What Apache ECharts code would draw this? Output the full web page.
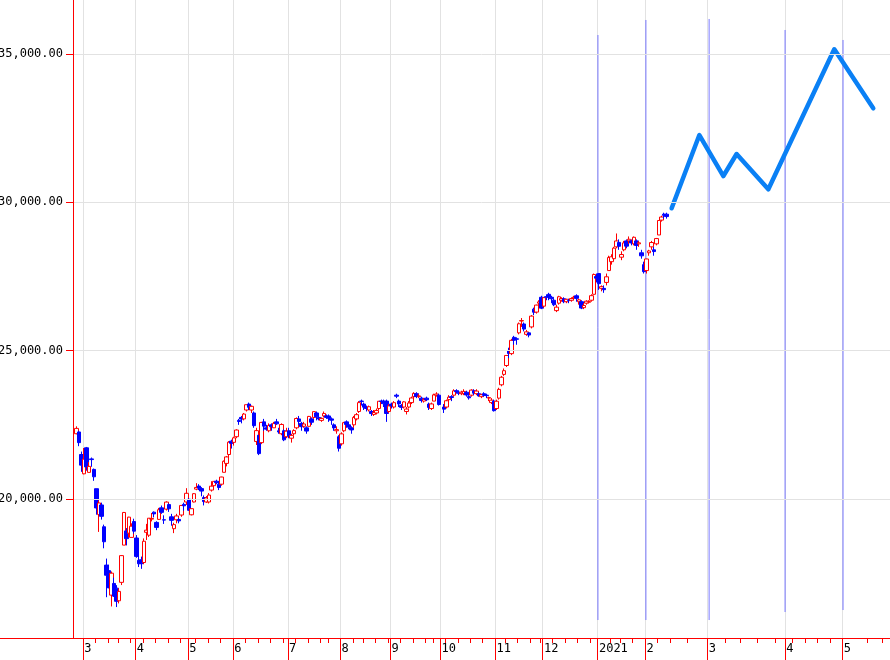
<!DOCTYPE html>
<html>
<head>
<meta charset="utf-8">
<script src="https://cdn.jsdelivr.net/npm/echarts@6/dist/echarts.min.js"></script>
<style>html,body{margin:0;padding:0;background:#fff;}#c{width:890px;height:660px;}</style>
</head>
<body>
<div id="c"></div>
<script>
// ---- data ----
const slotCount = 327;
// month boundaries (slot index) and labels
const monthSlots = [4, 25, 46, 64, 86, 107, 127, 147, 169, 188, 210, 229, 254, 285, 308];
const monthLabels = ['3', '4', '5', '6', '7', '8', '9', '10', '11', '12', '2021', '2', '3', '4', '5'];
// weekly minor ticks (slot index)
const weekSlots = [9, 14, 18, 23, 28, 33, 38, 43, 49, 54, 59, 69, 74, 79, 84, 89, 94, 99, 102,
  112, 116, 121, 126, 131, 136, 141, 144, 149, 154, 159, 164, 173, 178, 183, 187,
  192, 197, 202, 207, 215, 219, 224, 234, 239, 246, 261, 267, 274, 281, 288, 293, 298, 303, 318, 324];
const yTicks = [20000, 25000, 30000, 35000];
// daily candles [open, close, low, high], one per slot from slot 0
const candles = [
  null,
  [22200,22380,22180,22450],[22260,21900,21780,22300],[21500,21142,20916,21600],
  // Mar
  [20849,21344,20834,21719],[21726,21082,20955,21755],[20897,21100,20897,21245],[21352,21329,21086,21399],[20998,20749,20613,21027],
  [20347,19698,19472,20347],[19474,19867,18891,19950],[19799,19416,19306,19878],[19064,18559,18339,19136],[17772,17431,16690,17992],
  [17586,17002,17000,17785],[16760,17500,16378,17557],[17154,16726,16698,17350],[16995,16552,16358,17096],
  [16570,16887,16480,16990],[17191,18092,17099,18108],[18446,19546,18446,19564],[18924,18664,18436,19019],[18850,19389,18700,19400],
  [18706,19084,18706,19181],[19240,18917,18832,19336],
  // Apr
  [18686,18065,18018,18784],[17934,17818,17707,18132],[17951,17820,17646,18059],
  [17860,18576,17802,18672],[18878,18950,18619,19162],[18780,19353,18720,19353],[19322,19345,19245,19530],[19557,19498,19380,19580],
  [19211,19043,18950,19250],[19313,19638,19300,19700],[19702,19550,19500,19780],[19300,19290,19160,19450],[19658,19897,19612,19922],
  [19812,19669,19565,19853],[19400,19280,19100,19500],[19000,19137,18850,19200],[19300,19429,19180,19500],[19311,19262,19180,19360],
  [19460,19783,19400,19800],[19818,19771,19606,19877],[19900,20193,19800,20365],
  // May
  [19991,19619,19600,20020],
  [19468,19674,19448,19680],[19900,20179,19885,20200],
  [20333,20390,20296,20534],[20437,20366,20300,20500],[20350,20267,20090,20400],[20050,19914,19784,20120],[19900,20037,19870,20100],
  [19900,20133,19850,20200],[20300,20433,20250,20600],[20450,20595,20400,20600],[20600,20552,20500,20650],[20500,20388,20300,20600],
  [20500,20741,20450,20750],[20900,21271,20900,21300],[21200,21419,21100,21450],[21500,21916,21400,21950],[21950,21877,21700,22000],
  // Jun
  [21910,22062,21800,22100],[22100,22325,22050,22350],[22650,22613,22500,22700],[22750,22695,22550,22800],[22700,22863,22650,22900],
  [23000,23178,22950,23185],[23200,23091,23000,23250],[23000,23124,22900,23150],[22900,22472,22400,22950],[21940,22305,21820,22400],
  [22150,21530,21480,22150],[21900,22582,21850,22600],[22600,22455,22300,22700],[22400,22355,22300,22500],[22300,22478,22250,22550],
  [22500,22437,22300,22550],[22400,22549,22400,22600],[22600,22534,22500,22700],[22300,22259,22200,22400],[22200,22512,22150,22550],
  [22300,21995,21950,22350],[22100,22288,22050,22400],
  // Jul
  [22300,22121,22050,22400],[22050,22145,21900,22200],[22200,22306,22150,22350],
  [22400,22714,22350,22750],[22700,22614,22500,22800],[22550,22438,22300,22600],[22450,22529,22400,22600],[22400,22290,22200,22450],
  [22450,22784,22450,22800],[22700,22587,22500,22750],[22750,22945,22700,22950],[22900,22770,22650,22950],[22750,22696,22650,22850],
  [22650,22717,22600,22750],[22800,22884,22750,22950],[22800,22751,22700,22850],
  [22800,22715,22600,22850],[22700,22657,22500,22750],[22500,22397,22300,22550],[22300,22339,22200,22450],[22100,21710,21600,22150],
  // Aug
  [21860,22195,21800,22250],[22300,22573,22250,22600],[22600,22514,22400,22650],[22500,22418,22350,22550],[22400,22329,22200,22450],
  [22500,22750,22400,22800],[22700,22843,22650,22900],[22950,23249,22900,23300],[23300,23289,23150,23350],
  [23200,23096,23000,23250],[23100,23051,22950,23150],[23000,23110,22950,23150],[22950,22880,22800,23000],[22850,22920,22800,23000],
  [22900,22985,22850,23050],[23050,23296,23000,23300],[23300,23290,23200,23350],[23300,23208,23100,23350],[23300,22882,22600,23350],
  [22950,23139,22900,23200],
  // Sep
  [23200,23138,23050,23250],[23100,23247,23050,23300],[23500,23465,23400,23550],[23300,23205,23100,23350],
  [23150,23089,23000,23200],[23100,23274,23050,23300],[22950,23032,22850,23100],[23100,23235,23050,23300],[23250,23406,23200,23450],
  [23450,23559,23400,23600],[23550,23454,23400,23600],[23450,23475,23400,23550],[23400,23319,23250,23450],[23300,23360,23250,23400],
  [23400,23346,23300,23450],[23200,23087,23000,23250],[23050,23204,23000,23250],
  [23300,23511,23300,23550],[23500,23539,23450,23600],[23500,23185,23150,23550],
  // Oct
  null,[23100,23029,22900,23200],
  [23100,23312,23050,23350],[23350,23433,23300,23500],[23450,23422,23300,23500],[23500,23647,23450,23700],[23650,23619,23550,23700],
  [23600,23558,23500,23650],[23550,23601,23500,23650],[23550,23626,23500,23700],[23600,23507,23450,23650],[23450,23410,23350,23500],
  [23500,23671,23450,23700],[23650,23567,23500,23700],[23550,23639,23500,23700],[23550,23474,23450,23600],[23450,23516,23400,23550],
  [23550,23494,23450,23600],[23500,23485,23400,23550],[23400,23418,23300,23450],[23250,23331,23200,23400],[23300,22977,22948,23350],
  // Nov
  [23050,23295,23000,23350],[23400,23695,23350,23750],[23850,24105,23800,24150],[24200,24325,24150,24400],
  [24500,24839,24450,24850],[25000,24905,24750,25100],[24900,25349,24850,25400],[25450,25350,25200,25500],[25400,25385,25200,25450],
  [25600,25906,25550,25950],[26000,26014,25800,26100],[25900,25728,25650,25950],[25550,25634,25500,25700],[25600,25527,25450,25600],
  [25800,26165,25750,26200],[26400,26296,26200,26450],[26300,26537,26250,26550],[26600,26644,26500,26700],
  [26800,26433,26400,26850],
  // Dec
  [26500,26787,26450,26800],[26820,26800,26700,26900],[26900,26809,26700,26950],[26800,26751,26600,26850],
  [26700,26547,26500,26750],[26350,26467,26300,26550],[26600,26817,26550,26850],[26700,26756,26650,26800],[26750,26652,26600,26800],
  [26650,26732,26600,26750],[26700,26687,26600,26750],[26700,26757,26650,26800],[26780,26806,26700,26850],[26850,26763,26650,26900],
  [26650,26714,26550,26750],[26650,26436,26400,26700],[26450,26524,26400,26600],[26600,26668,26550,26700],[26630,26656,26600,26700],
  [26700,26854,26650,26900],[26900,27568,26900,27600],[27500,27444,27300,27600],
  // Jan 2021
  [27600,27258,27050,27600],[27100,27158,27000,27200],[27100,27055,26950,27200],[27300,27490,27200,27600],[27700,28139,27700,28200],
  [28000,28164,27900,28250],[28100,28456,28050,28500],[28500,28698,28450,28950],[28650,28519,28400,28750],
  [28150,28242,28050,28350],[28400,28633,28350,28700],[28700,28523,28450,28750],[28700,28756,28600,28850],[28700,28631,28550,28750],
  [28600,28822,28550,28850],[28700,28546,28400,28750],[28600,28635,28500,28700],[28300,28197,28100,28400],[27900,27663,27600,28000],
  // Feb 2021
  [27700,28091,27600,28100],[28300,28362,28200,28400],[28500,28646,28400,28700],[28400,28341,28200,28500],[28600,28779,28550,28800],
  [28900,29388,28900,29400],[29400,29505,29350,29550],[29600,29562,29450,29650],[29600,29520,29450,29650]
];
// hand-drawn forecast line (slot position, value)
const forecastX = [239.6, 250.7, 260.3, 265.6, 278.3, 304.7, 320.3];
const forecastY = [29799, 32269, 30887, 31629, 30439, 35158, 33169];
// hand-drawn blue vertical markers (slot position, top value, bottom value)
const vlineX = [210.1, 229.3, 254.6, 285.0, 308.2];
const vlineTop = [35640, 36146, 36180, 35809, 35472];
const vlineBottom = [15921, 15921, 15921, 16191, 16258];

// ---- chart ----
const slots = Array.from({length: slotCount}, (_, i) => String(i));
const monthSet = new Set(monthSlots);
const weekSet = new Set(weekSlots);
const labelMap = {};
monthSlots.forEach((s, i) => { labelMap[s] = monthLabels[i]; });
const fmt = v => {
  const s = Math.round(v).toString().replace(/\B(?=(\d{3})+(?!\d))/g, ',');
  return s + '.00';
};
const RED = '#ff0000';
const GRID = '#e2e2e2';
const FONT = 'DejaVu Sans Mono';

const vlineSeries = vlineX.map((x, i) => ({
  type: 'line', xAxisIndex: 2, yAxisIndex: 0, silent: true, z: 2,
  data: [[x, vlineTop[i]], [x, vlineBottom[i]]],
  showSymbol: false, symbol: 'none',
  lineStyle: {color: '#7878ff', width: 1}
}));

const chart = echarts.init(document.getElementById('c'), null, {renderer: 'canvas'});
chart.setOption({
  animation: false,
  backgroundColor: '#ffffff',
  grid: [
    {left: 73, right: 0, top: 0, bottom: 22, containLabel: false, outerBoundsMode: 'none'},
    {left: 0, right: 0, top: 0, bottom: 22, containLabel: false, outerBoundsMode: 'none'}
  ],
  xAxis: [
    {
      type: 'category', gridIndex: 0, data: slots, boundaryGap: true, position: 'bottom',
      axisLine: {show: false},
      axisTick: {show: true, interval: i => monthSet.has(i), length: 22, lineStyle: {color: RED, width: 1}},
      axisLabel: {show: true, interval: i => monthSet.has(i), formatter: (v) => labelMap[+v] || '',
        align: 'left', verticalAlign: 'top', margin: 5, fontSize: 12, color: '#000', fontFamily: FONT},
      splitLine: {show: true, interval: i => monthSet.has(i), lineStyle: {color: GRID, width: 1}}
    },
    {
      type: 'category', gridIndex: 0, data: slots, boundaryGap: true, position: 'bottom', offset: 0,
      axisLine: {show: false},
      axisTick: {show: true, interval: i => weekSet.has(i), length: 5, lineStyle: {color: RED, width: 1}},
      axisLabel: {show: false}, splitLine: {show: false}
    },
    {type: 'value', gridIndex: 0, min: 0, max: slotCount, show: false,
      axisLine: {show: false}, axisTick: {show: false}, axisLabel: {show: false}, splitLine: {show: false}},
    {
      type: 'value', gridIndex: 1, min: 0, max: 1, position: 'bottom', z: 20,
      axisLine: {show: true, onZero: false, lineStyle: {color: RED, width: 1}},
      axisTick: {show: false}, axisLabel: {show: false}, splitLine: {show: false}
    }
  ],
  yAxis: [
    {
      type: 'value', gridIndex: 0, min: 15315, max: 36820, position: 'left', z: 20,
      axisLine: {show: true, onZero: false, lineStyle: {color: RED, width: 1}},
      axisTick: {show: true, length: 7, customValues: yTicks, lineStyle: {color: RED}},
      axisLabel: {show: true, customValues: yTicks, formatter: fmt, margin: 10, fontSize: 12, color: '#000', fontFamily: FONT},
      splitLine: {show: true, lineStyle: {color: GRID, width: 1}}
    },
    {type: 'value', gridIndex: 1, show: false, min: 0, max: 1,
      axisLine: {show: false}, axisTick: {show: false}, axisLabel: {show: false}, splitLine: {show: false}}
  ],
  series: [
    {
      type: 'candlestick', xAxisIndex: 0, yAxisIndex: 0, barWidth: 4,
      data: candles.map(c => c ? c : ['-', '-', '-', '-']),
      itemStyle: {color: '#ffffff', color0: '#0000ff', borderColor: '#ff0000', borderColor0: '#0000ff', borderWidth: 1},
      silent: true, z: 3
    },
    {
      type: 'line', xAxisIndex: 2, yAxisIndex: 0, silent: true, z: 4,
      data: forecastX.map((x, i) => [x, forecastY[i]]),
      showSymbol: false, symbol: 'none',
      lineStyle: {color: '#0a80f5', width: 4.5, join: 'round', cap: 'round'}
    }
  ].concat(vlineSeries)
});
</script>
</body>
</html>
